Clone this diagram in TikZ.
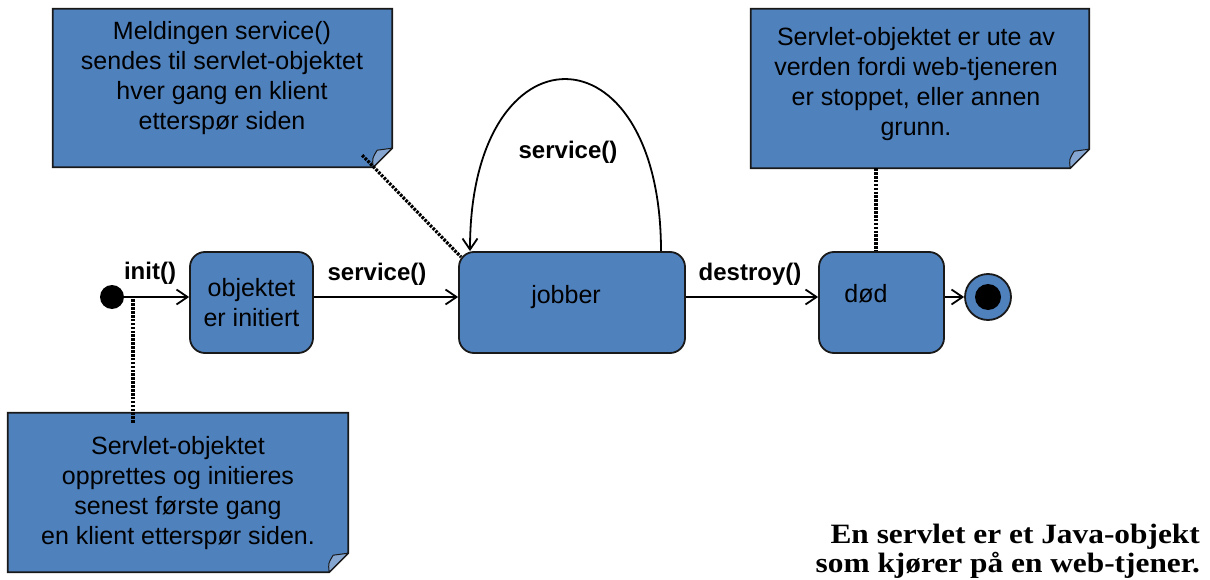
\documentclass[tikz,border=0pt]{standalone}
\usepackage{fontspec}
\setmainfont{Liberation Sans}
\newfontfamily\capfont[FakeStretch=1.12]{Liberation Serif}
\usetikzlibrary{arrows.meta,calc}
\definecolor{umlblue}{HTML}{4F81BD}
\definecolor{flapblue}{HTML}{86A6D2}
\newcommand{\drawnote}[1]{%
  \draw[notebody] (#1.north west) -- (#1.north east) -- ([yshift=19pt]#1.south east)
     -- ([xshift=-19pt]#1.south east) -- (#1.south west) -- cycle;
  \draw[notefold] ([xshift=-19pt]#1.south east) .. controls ([xshift=-20pt,yshift=9pt]#1.south east)
     .. ([xshift=-15pt,yshift=17pt]#1.south east) -- ([yshift=19pt]#1.south east) -- cycle;
}
\begin{document}
\begin{tikzpicture}[x=1pt,y=-1pt,
  state/.style={draw=black!90, line width=1.8pt, fill=umlblue, rounded corners=15pt,
     inner sep=0pt, font=\fontsize{25}{30}\selectfont, align=center},
  notebox/.style={inner sep=0pt},
  notebody/.style={draw=black!90, fill=umlblue, line width=1.8pt, line join=miter},
  notefold/.style={draw=black!90, fill=flapblue, line width=1pt, line join=round},
  notetext/.style={font=\fontsize{25}{30}\selectfont, align=center, inner sep=0pt},
  lbl/.style={font=\bfseries\fontsize{24}{28}\selectfont, inner sep=0pt},
  trans/.style={line width=1.8pt, -{Straight Barb[length=11pt,width=15pt,line width=1.8pt]}},
  anchorline/.style={line width=3.2pt, dash pattern=on 2.6pt off 1.3pt},
]
\useasboundingbox (0,0) rectangle (1210,580);

% states
\node[circle, fill=black, minimum size=24pt, inner sep=0pt] (init) at (112,297) {};
\node[state, minimum width=123pt, minimum height=101pt] (obj) at (251.5,302.5) {objektet\\er initiert};
\node[state, minimum width=226pt, minimum height=101pt] (jobber) at (572,302.5) {};
\node[notetext] (jobbert) at (566,297) {jobber};
\node[state, minimum width=125pt, minimum height=101pt] (dod) at (881.5,302.5) {};
\node[notetext] (dodt) at (866,294) {død};
\node[circle, draw=black!90, line width=1.8pt, fill=umlblue, minimum size=46pt, inner sep=0pt] (fin) at (988,297) {};
\node[circle, fill=black, minimum size=26pt, inner sep=0pt] (finin) at (fin) {};

% transitions
\draw[trans] (init.east) -- (init -| obj.west);
\draw[trans] (obj.east |- init) -- (jobber.west |- init);
\draw[trans] (jobber.east |- init) -- (dod.west |- init);
\draw[trans] (dod.east |- fin) -- (fin.west);
\draw[trans] ([xshift=89pt]jobber.north) .. controls +(0,-229) and +(0,-229) .. ([xshift=-102pt]jobber.north);

\node[lbl] (linit) at (150,273) {init()};
\node[lbl] (lserv) at (377,274) {service()};
\node[lbl] (ldest) at (750,274) {destroy()};
\node[lbl] (lloop) at (568,152) {service()};

% notes
\node[notebox, minimum width=339pt, minimum height=158pt] (n1) at (222.5,88) {};
\drawnote{n1}
\node[notetext] (n1t) at (222,78) {Meldingen service()\\sendes til servlet-objektet\\hver gang en klient\\etterspør siden};

\node[notebox, minimum width=340pt, minimum height=159pt] (n2) at (178,492.5) {};
\drawnote{n2}
\node[notetext] (n2t) at (178,493) {Servlet-objektet\\opprettes og initieres\\senest første gang\\en klient etterspør siden.};

\node[notebox, minimum width=338pt, minimum height=159pt] (n3) at (920,88.5) {};
\drawnote{n3}
\node[notetext] (n3t) at (916,84) {Servlet-objektet er ute av\\verden fordi web-tjeneren\\er stoppet, eller annen\\grunn.};

% note anchors
\coordinate (c2) at (133,297);
\coordinate (c3) at (876,200);
\draw[anchorline] ($(n1.south east)+(-30,-12)$) -- ($(jobber.north west)+(3,6)$);
\draw[anchorline] ([yshift=-10pt]c2 |- n2.north) -- (c2);
\draw[anchorline] (c3 |- n3.south) -- (c3 |- dod.north);

% caption
\node[font=\capfont\bfseries\fontsize{28}{29}\selectfont, align=right, anchor=south east, inner sep=0pt]
  (cap) at (1200,579) {En servlet er et Java-objekt\\som kjører på en web-tjener.};
\end{tikzpicture}
\end{document}
